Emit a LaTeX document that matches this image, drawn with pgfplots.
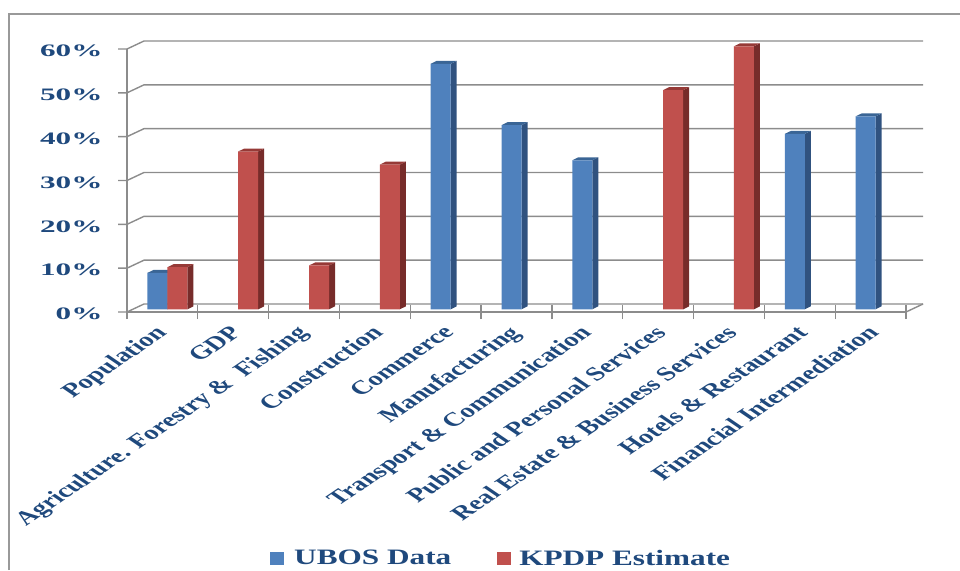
\documentclass[border=0pt]{standalone}
\usepackage{pgfplots}
\usepackage{graphicx}
\usepackage{fontspec}
\setmainfont{Liberation Serif}
\pgfplotsset{compat=1.18}
\definecolor{navy}{HTML}{1F497D}
\definecolor{fb}{HTML}{4F81BD}\definecolor{sb}{HTML}{30527F}\definecolor{tb}{HTML}{3A6595}
\definecolor{fr}{HTML}{C0504D}\definecolor{sr}{HTML}{772C2A}\definecolor{tr}{HTML}{963A37}
\definecolor{gridc}{HTML}{8C8C8C}
\newcommand{\yl}[1]{\scalebox{1.78}[1]{\bfseries\fontsize{17.5}{18}\selectfont\color{navy}#1}}
\newcommand{\xl}[1]{\scalebox{1.47}[1]{\rotatebox{45}{\bfseries\fontsize{19.5}{21}\selectfont\color{navy}#1}}}
\newcommand{\lgd}[1]{\scalebox{1.42}[1]{\bfseries\fontsize{22}{23}\selectfont\color{navy}#1}}
% one 3-D bar: side and top faces, in axis units of the bar axis
\newcommand{\faces}[5]{% centre, sign(-1 blue,0 red), value, side, top
  \pgfmathsetmacro\xa{#1+#2*0.2825}\pgfmathsetmacro\xb{\xa+0.2825}
  \pgfmathsetmacro\xc{\xb+0.0847}\pgfmathsetmacro\xd{\xa+0.0847}
  \pgfmathsetmacro\yt{#3+0.68}
  \edef\tmp{\noexpand\addplot[forget plot,draw=none,fill=#4] coordinates {(\xb,0) (\xc,0.68) (\xc,\yt) (\xb,#3)} -- cycle;
  \noexpand\addplot[forget plot,draw=none,fill=#5] coordinates {(\xa,#3) (\xb,#3) (\xc,\yt) (\xd,\yt)} -- cycle;}\tmp}
\begin{document}
\begin{tikzpicture}[x=1pt,y=1pt]
\useasboundingbox (0,0) rectangle (960,570);
\draw[color=gray!80,line width=1.6pt] (9,0) -- (9,556) -- (960,556);
% structural axis: front plane of the chart
\begin{axis}[at={(127pt,258pt)},anchor=origin,scale only axis,width=779pt,height=263pt,
  xmin=0,xmax=11,ymin=0,ymax=60,
  axis x line=bottom,axis y line=left,axis line style={draw=gridc,line width=1.5pt,-},
  ytick={0,10,...,60},yticklabels={\yl{0\%},\yl{10\%},\yl{20\%},\yl{30\%},\yl{40\%},\yl{50\%},\yl{60\%}},
  y tick label style={anchor=east,xshift=-21pt,yshift=-2pt},
  xtick={0.5,1.5,...,10.5},
  xticklabels={\xl{Population},\xl{GDP},\xl{Agriculture. Forestry \&\ \ Fishing},\xl{Construction},\xl{Commerce},\xl{Manufacturing},\xl{Transport \& Communication},\xl{Public and Personal Services},\xl{Real Estate \& Business Services},\xl{Hotels \& Restaurant},\xl{Financial Intermediation}},
  x tick label style={anchor=north east,xshift=13pt,yshift=-9pt},
  major tick length=0pt,
  extra x ticks={0,1,...,11},extra x tick labels={},
  extra x tick style={major tick length=14pt,tick style={draw=gridc,line width=1.3pt},xticklabel=\empty},
  clip=false]
\foreach \v in {0,10,...,60}{
  \edef\tmp{\noexpand\draw[gridc,line width=1.4pt] (axis cs:0,\v) ++(-9pt,0) -- (axis cs:0,\v) -- ++(17pt,8pt) -- ++(779pt,0);}\tmp
}
\draw[gridc,line width=1.4pt] (axis cs:11,0) -- ++(17pt,8pt);
\end{axis}
% bars, on the plane half way into the depth
\begin{axis}[at={(132pt,260.7pt)},anchor=origin,scale only axis,width=779pt,height=263pt,
  xmin=0,xmax=11,ymin=0,ymax=60,hide axis,clip=false,
  legend image code/.code={\fill[#1] (0pt,-6.5pt) rectangle (14pt,6.5pt);},
  legend style={draw=none,fill=none,at={(138pt,-259.5pt)},anchor=south west,legend columns=2,inner sep=0pt,
    /tikz/every even column/.style={column sep=0pt}},
  legend cell align=left]
\faces{0.5}{-1}{8.3}{sb}{tb}
\faces{0.5}{0}{9.6}{sr}{tr}
\faces{1.5}{0}{36}{sr}{tr}
\faces{2.5}{0}{10}{sr}{tr}
\faces{3.5}{0}{33}{sr}{tr}
\faces{4.5}{-1}{56}{sb}{tb}
\faces{5.5}{-1}{42}{sb}{tb}
\faces{6.5}{-1}{34}{sb}{tb}
\faces{7.5}{0}{50}{sr}{tr}
\faces{8.5}{0}{60}{sr}{tr}
\faces{9.5}{-1}{40}{sb}{tb}
\faces{10.5}{-1}{44}{sb}{tb}
\addplot[ybar,bar width=20pt,bar shift=-10pt,draw=none,fill=fb] coordinates
 {(0.5,8.3)(4.5,56)(5.5,42)(6.5,34)(9.5,40)(10.5,44)};
\addplot[ybar,bar width=20pt,bar shift=10pt,draw=none,fill=fr] coordinates
 {(0.5,9.6)(1.5,36)(2.5,10)(3.5,33)(7.5,50)(8.5,60)};
\addlegendentry{\rule{8pt}{0pt}\lgd{UBOS Data}\rule{44pt}{0pt}}
\addlegendentry{\rule{6pt}{0pt}\lgd{KPDP Estimate}}
\end{axis}
\end{tikzpicture}
\end{document}
